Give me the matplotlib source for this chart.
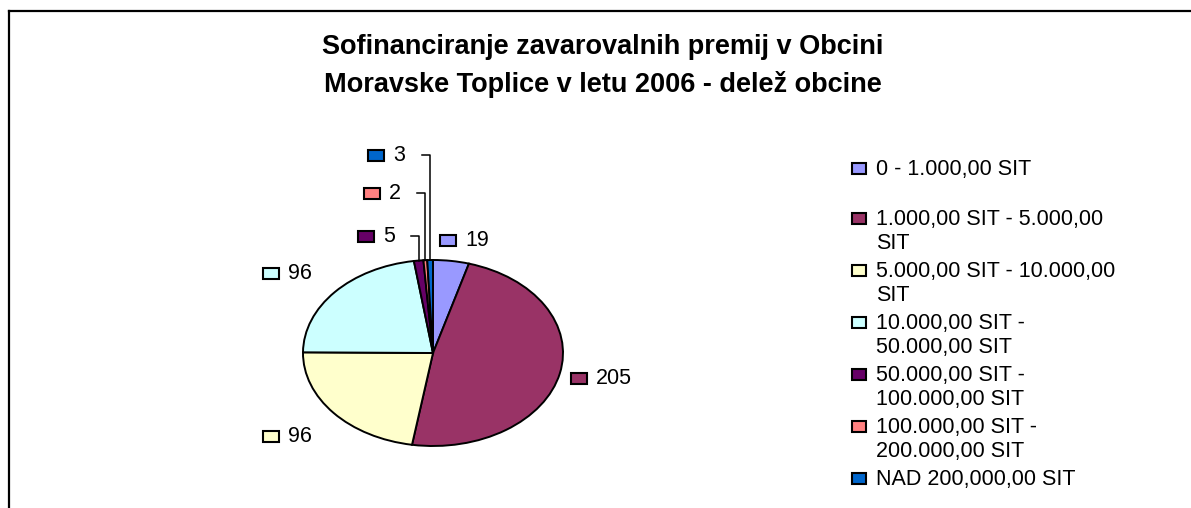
import numpy as np
import matplotlib
matplotlib.use("Agg")
import matplotlib.pyplot as plt
from matplotlib.patches import Rectangle
from matplotlib.lines import Line2D

W, H = 1191, 508

title_lines = ["Sofinanciranje zavarovalnih premij v Obcini",
               "Moravske Toplice v letu 2006 - delež obcine"]
categories = ["0 - 1.000,00 SIT",
              "1.000,00 SIT - 5.000,00\nSIT",
              "5.000,00 SIT - 10.000,00\nSIT",
              "10.000,00 SIT -\n50.000,00 SIT",
              "50.000,00 SIT -\n100.000,00 SIT",
              "100.000,00 SIT -\n200.000,00 SIT",
              "NAD 200,000,00 SIT"]
values = [19, 205, 96, 96, 5, 2, 3]
colors = ["#9999FF", "#993366", "#FFFFCC", "#CCFFFF", "#660066", "#FF8080", "#0066CC"]

# - - - - layout (pixels of the 1191x508 picture) - - -
cx, cy = 433, 353      # pie centre
rx, ry = 130, 93       # pie radii
# label key left edge / text centre, in pie-radius units
label_pos = [(0.054, 1.215), (1.06, -0.269), (-1.31, -0.903), (-1.31, 0.86),
             (-0.577, 1.258), (-0.531, 1.72), (-0.50, 2.129)]
leader = [False, False, False, False, True, True, True]
legend_rows = [168, 218, 270, 322, 374, 426, 478]

plt.rcParams['font.family'] = ['Liberation Sans', 'DejaVu Sans']


def fx(x):
    return x / W


def fy(y):
    return 1 - y / H


def main():
    fig = plt.figure(figsize=(W / 100, H / 100), dpi=100)
    fig.patch.set_facecolor('white')

    # chart frame (cut off at right and bottom)
    fig.add_artist(Line2D([fx(9), fx(W + 5)], [fy(11), fy(11)], color='black', lw=1.6))
    fig.add_artist(Line2D([fx(9), fx(9)], [fy(11), fy(H + 5)], color='black', lw=1.6))

    # title
    fig.text(fx(603), fy(47), title_lines[0], ha='center', va='center',
             fontsize=19.5, fontweight='bold')
    fig.text(fx(603), fy(85), title_lines[1], ha='center', va='center',
             fontsize=19.5, fontweight='bold')

    # pie, squashed to an ellipse
    ax = fig.add_axes([0, 0, 1, 1])
    ax.pie(values, colors=colors, startangle=90, counterclock=False,
           wedgeprops=dict(edgecolor='black', linewidth=1.4))
    ax.set_aspect('auto')
    ax.set_xlim(-cx / rx, (W - cx) / rx)
    ax.set_ylim(-(H - cy) / ry, cy / ry)
    ax.axis('off')

    # value labels with legend keys
    total = float(sum(values))
    cum = np.cumsum([0] + values)
    kw, kh = 16 / rx, 11 / ry
    for i, v in enumerate(values):
        lx, ly = label_pos[i]
        ax.add_patch(Rectangle((lx, ly - kh / 2), kw, kh, facecolor=colors[i],
                               edgecolor='black', lw=1.5, clip_on=False))
        ax.text(lx + 25 / rx, ly, str(v), ha='left', va='center', fontsize=15.5)
        if leader[i]:
            mid = np.deg2rad((cum[i] + v / 2) / total * 360)
            px, py = np.sin(mid), np.cos(mid)
            ax.plot([px, px, px - 8 / rx], [py, ly, ly], color='black', lw=1.1,
                    clip_on=False)

    # legend
    for i, lab in enumerate(categories):
        yc = legend_rows[i]
        fig.add_artist(Rectangle((fx(852), fy(yc + 5.5)), 14 / W, 11 / H,
                                 facecolor=colors[i], edgecolor='black', lw=1.5))
        fig.text(fx(876), fy(yc - 9), lab, ha='left', va='top', fontsize=15.5,
                 linespacing=1.2)

    fig.savefig('out.png', dpi=100)


if __name__ == '__main__':
    main()
